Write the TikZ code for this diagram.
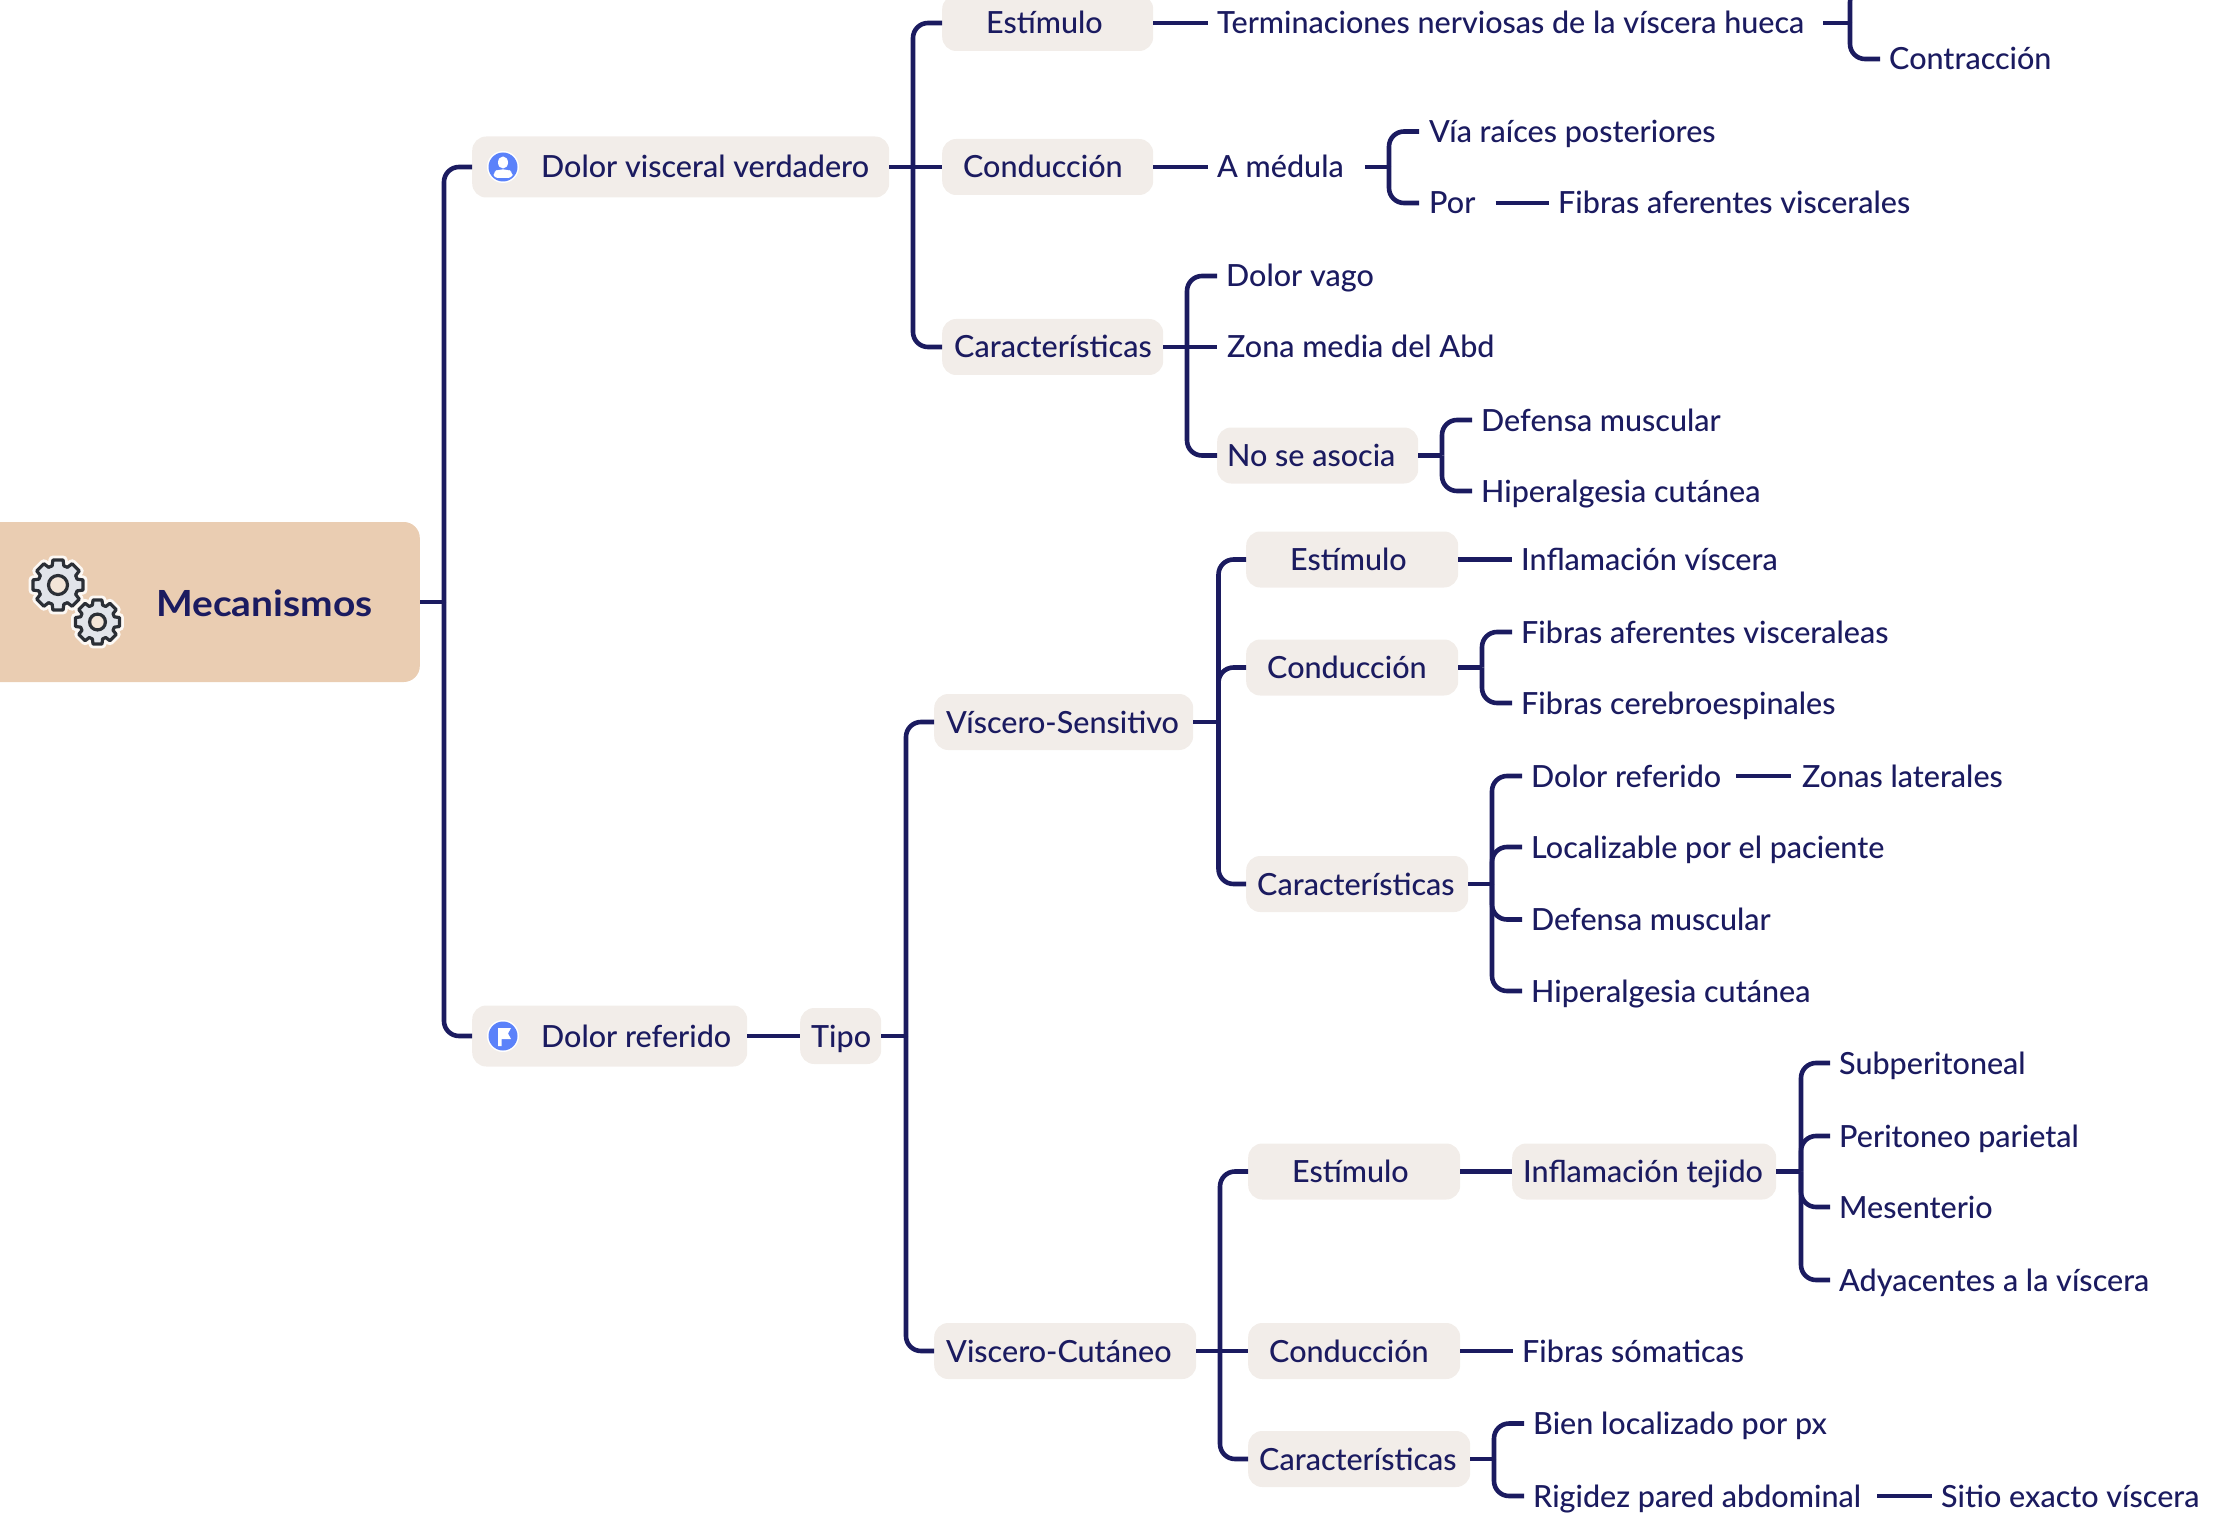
\documentclass[tikz,border=0pt]{standalone}
\usepackage{fontspec}
\setmainfont{Lato Medium}
\newfontfamily\rootfont[FakeStretch=1.08]{Lato Bold}
\definecolor{ink}{HTML}{1B1B60}
\definecolor{boxfill}{HTML}{F2EDE9}
\definecolor{rootfill}{HTML}{EACDB2}
\definecolor{iconblue}{HTML}{5B82FA}
\definecolor{geardark}{HTML}{2B2F36}
\definecolor{gearfill}{HTML}{E1E4EA}
\definecolor{gearhole}{HTML}{F3E5D8}
\newcommand\bt[3]{\makebox[#1pt][l]{\hspace*{#2pt}#3}}
\newcommand\kid[2]{\draw[conn,rounded corners=15pt] (#1) -- (#1 |- #2.west) -- (#2.west);}
\newcommand\gearicon[4]{%
 \begin{scope}[shift={(#1,#2)},scale=#3]
  \draw[white!85!rootfill,line width=9pt,line join=round,fill=white] (-17:20) \foreach \a in {0,45,...,315}{ -- ({\a-17}:20) -- ({\a-11.5}:25.5) -- ({\a+11.5}:25.5) -- ({\a+17}:20)} -- cycle;
  \draw[geardark,line width=3.2pt,line join=round,fill=gearfill] (-17:20) \foreach \a in {0,45,...,315}{ -- ({\a-17}:20) -- ({\a-11.5}:25.5) -- ({\a+11.5}:25.5) -- ({\a+17}:20)} -- cycle;
  \draw[geardark,line width=3.2pt,fill=gearhole] (0,0) circle (#4);
 \end{scope}}
\tikzset{
 conn/.style={draw=ink,line width=4.6pt,line cap=butt},
 txt/.style={text=ink,font=\fontsize{30.5}{33}\selectfont,text height=24.5pt,text depth=2.5pt,inner ysep=0pt},
 boxn/.style={txt,fill=boxfill,rounded corners=14pt,inner xsep=0pt,minimum height=56pt,anchor=west},
 leaf/.style={txt,inner xsep=9pt,anchor=west},
 rootn/.style={fill=rootfill,rounded corners=16pt,inner sep=0pt,minimum height=160pt,minimum width=450pt,anchor=east}
}
\begin{document}
\begin{tikzpicture}[x=1pt,y=-1pt]
\clip (0,0) rectangle (2231,1530);
% root
\node[rootn] (root) at (420,602) {};
\node[text=ink,font=\rootfont\fontsize{36}{38}\selectfont,anchor=west,inner sep=0pt] (roottxt) at (156,603) {Mecanismos};
\gearicon{58}{585}{1}{9.5}
\gearicon{97.5}{622}{0.88}{9}
% level 1
\node[boxn,minimum height=61pt] (dv) at (472,167) {\bt{417}{69}{Dolor visceral verdadero}};
\node[boxn,minimum height=61pt] (dr) at (472,1036) {\bt{275}{69}{Dolor referido}};
\fill[white] (503,167) circle (16);
\fill[iconblue] (503,167) circle (14.5);
\fill[white] (503,162.5) ellipse (5 and 6);
\fill[white,rounded corners=4pt] (493.5,178) -- (493.5,172) -- (498,169.5) -- (508,169.5) -- (512.5,172) -- (512.5,178) -- cycle;
\fill[white] (503,1036) circle (16);
\fill[iconblue] (503,1036) circle (14.5);
\fill[white] (498,1028) -- (511,1028) -- (508,1033.5) -- (511,1039) -- (501.5,1039) -- (501.5,1046) -- (498,1046) -- cycle;
\coordinate (s0) at (444,602);
\draw[conn] (root.east) -- (s0);
\kid{s0}{dv}
\kid{s0}{dr}
% Dolor visceral
\coordinate (s1) at (913,167);
\node[boxn] (e1) at (942,23) {\bt{211}{44}{Estímulo}};
\node[boxn] (c1) at (942,167) {\bt{211}{21}{Conducción}};
\node[boxn] (k1) at (942,347) {\bt{221}{12}{Características}};
\draw[conn] (dv.east) -- (s1);
\kid{s1}{e1}\draw[conn] (s1) -- (c1.west);\kid{s1}{k1}
\node[leaf] (t1) at (1208,23) {Terminaciones nerviosas de la víscera hueca};
\draw[conn] (e1.east) -- (t1.west);
\coordinate (s2) at (1850,23);
\coordinate (hid) at (1880,-13);
\node[leaf] (con) at (1880,59) {Contracción};
\draw[conn] ([xshift=10pt]t1.east) -- (s2);
\draw[conn,rounded corners=15pt] (s2) -- (s2 |- hid) -- (hid);
\kid{s2}{con}
\node[leaf] (am) at (1208,167) {A médula};
\draw[conn] (c1.east) -- (am.west);
\coordinate (s3) at (1389,167);
\node[leaf,inner xsep=10pt] (via) at (1419,131.5) {Vía raíces posteriores};
\node[leaf,inner xsep=10pt] (por) at (1419,203) {Por};
\draw[conn] ([xshift=12pt]am.east) -- (s3);
\kid{s3}{via}\kid{s3}{por}
\node[leaf] (fav) at (1549,203) {Fibras aferentes viscerales};
\draw[conn] ([xshift=10pt]por.east) -- (fav.west);
\coordinate (s4) at (1187,347);
\node[leaf] (dvg) at (1217,276) {Dolor vago};
\node[leaf,inner xsep=10pt] (zm) at (1217,347) {Zona media del Abd};
\node[boxn] (nsa) at (1217,455.5) {\bt{201}{10}{No se asocia}};
\draw[conn] (k1.east) -- (s4);
\kid{s4}{dvg}\draw[conn] (s4) -- (zm.west);\kid{s4}{nsa}
\coordinate (s5) at (1442,455.5);
\node[leaf] (dm1) at (1472,420) {Defensa muscular};
\node[leaf] (hc1) at (1472,491) {Hiperalgesia cutánea};
\draw[conn] (nsa.east) -- (s5);
\kid{s5}{dm1}\kid{s5}{hc1}
% Dolor referido
\node[boxn] (tp) at (800,1036) {\bt{81}{11}{Tipo}};
\draw[conn] (dr.east) -- (tp.west);
\coordinate (s6) at (906,1036);
\node[boxn] (vs) at (934,722) {\bt{259}{12}{Víscero-Sensitivo}};
\node[boxn] (vc) at (934,1351) {\bt{262}{12}{Viscero-Cutáneo}};
\draw[conn] (tp.east) -- (s6);
\kid{s6}{vs}\kid{s6}{vc}
% VS
\coordinate (s7) at (1218.5,722);
\node[boxn] (e2) at (1246,559.5) {\bt{212}{44}{Estímulo}};
\node[boxn] (c2) at (1246,667.5) {\bt{212}{21}{Conducción}};
\node[boxn] (k2) at (1246,884) {\bt{222}{11}{Características}};
\draw[conn] (vs.east) -- (s7);
\kid{s7}{e2}\kid{s7}{c2}\kid{s7}{k2}
\node[leaf] (iv) at (1512,559.5) {Inflamación víscera};
\draw[conn] (e2.east) -- (iv.west);
\coordinate (s8) at (1482,667.5);
\node[leaf] (fa2) at (1512,632) {Fibras aferentes visceraleas};
\node[leaf] (fc2) at (1512,703) {Fibras cerebroespinales};
\draw[conn] (c2.east) -- (s8);
\kid{s8}{fa2}\kid{s8}{fc2}
\coordinate (s9) at (1492,884);
\node[leaf] (drf) at (1522,776) {Dolor referido};
\node[leaf] (loc) at (1522,847) {Localizable por el paciente};
\node[leaf] (dm2) at (1522,919.5) {Defensa muscular};
\node[leaf] (hc2) at (1522,991) {Hiperalgesia cutánea};
\draw[conn] (k2.east) -- (s9);
\kid{s9}{drf}\kid{s9}{loc}\kid{s9}{dm2}\kid{s9}{hc2}
\node[leaf,inner xsep=11pt] (zl) at (1791,776) {Zonas laterales};
\draw[conn] ([xshift=6pt]drf.east) -- (zl.west);
% VC
\coordinate (s10) at (1220,1351);
\node[boxn] (e3) at (1248,1171.5) {\bt{212}{44}{Estímulo}};
\node[boxn] (c3) at (1248,1351) {\bt{212}{21}{Conducción}};
\node[boxn] (k3) at (1248,1459) {\bt{222}{11}{Características}};
\draw[conn] (vc.east) -- (s10);
\kid{s10}{e3}\draw[conn] (s10) -- (c3.west);\kid{s10}{k3}
\node[boxn] (it) at (1512,1171.5) {\bt{264}{11}{Inflamación tejido}};
\draw[conn] (e3.east) -- (it.west);
\coordinate (s11) at (1801,1171.5);
\node[leaf] (sub) at (1830,1063) {Subperitoneal};
\node[leaf] (per) at (1830,1136) {Peritoneo parietal};
\node[leaf] (mes) at (1830,1207) {Mesenterio};
\node[leaf] (ady) at (1830,1280) {Adyacentes a la víscera};
\draw[conn] (it.east) -- (s11);
\kid{s11}{sub}\kid{s11}{per}\kid{s11}{mes}\kid{s11}{ady}
\node[leaf] (fs) at (1513,1351) {Fibras sómaticas};
\draw[conn] (c3.east) -- (fs.west);
\coordinate (s12) at (1494,1459);
\node[leaf] (bl) at (1524,1423.5) {Bien localizado por px};
\node[leaf] (rg) at (1524,1496) {Rigidez pared abdominal};
\draw[conn] (k3.east) -- (s12);
\kid{s12}{bl}\kid{s12}{rg}
\node[leaf] (se) at (1932,1496) {Sitio exacto víscera};
\draw[conn] ([xshift=7pt]rg.east) -- (se.west);
\end{tikzpicture}
\end{document}
